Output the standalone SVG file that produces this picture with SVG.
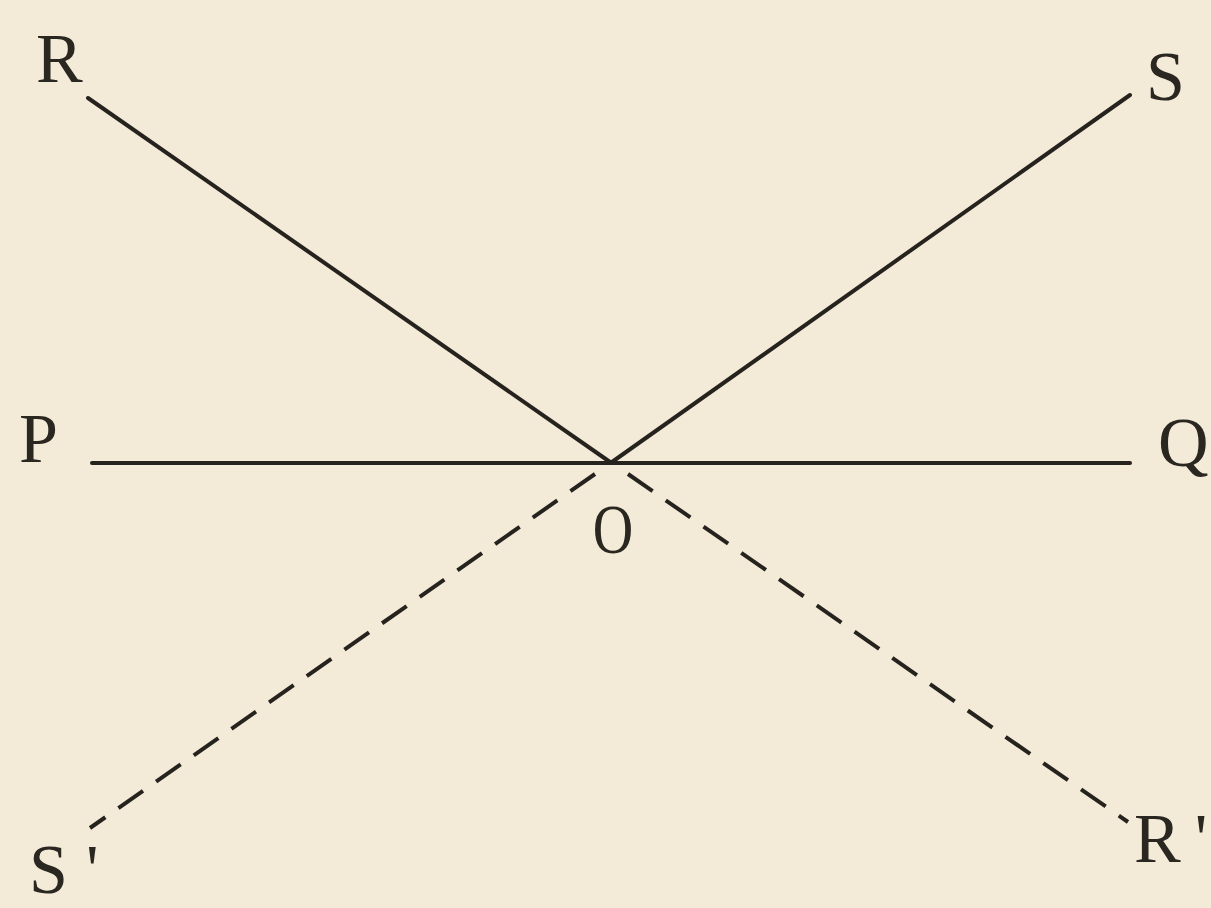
<svg xmlns="http://www.w3.org/2000/svg" width="1211" height="908" viewBox="0 0 1211 908">
<style>
.lbl{font-family:"Liberation Serif","DejaVu Serif",serif;font-size:70px;fill:#2a2620}
.solid{stroke:#26231e;stroke-width:4;fill:none;stroke-linecap:round}
.dash{stroke:#26231e;stroke-width:4;fill:none;stroke-dasharray:30 16}
</style>
<rect width="1211" height="908" fill="#f3ead8"/>
<g id="connectors">
<line class="solid" x1="88" y1="98" x2="610" y2="462"/>
<line class="solid" x1="612" y1="462" x2="1130" y2="95"/>
<line class="solid" x1="92" y1="463" x2="1130" y2="463"/>
<line class="dash" x1="595" y1="474" x2="90" y2="828"/>
<line class="dash" x1="628" y1="474" x2="1128" y2="822"/>
</g>
<g id="node-R"><text class="lbl" x="36" y="82">R</text></g>
<g id="node-S"><text class="lbl" x="1146" y="100">S</text></g>
<g id="node-P"><text class="lbl" x="19" y="462">P</text></g>
<g id="node-Q"><text class="lbl" x="1158" y="466">Q</text></g>
<g id="node-O"><text class="lbl" x="613" y="553" text-anchor="middle" transform="translate(613 0) scale(0.8 1) translate(-613 0)">O</text></g>
<g id="node-S-prime"><text class="lbl" x="29" y="893">S<tspan dx="18">'</tspan></text></g>
<g id="node-R-prime"><text class="lbl" x="1134" y="862">R<tspan dx="14">'</tspan></text></g>
</svg>
